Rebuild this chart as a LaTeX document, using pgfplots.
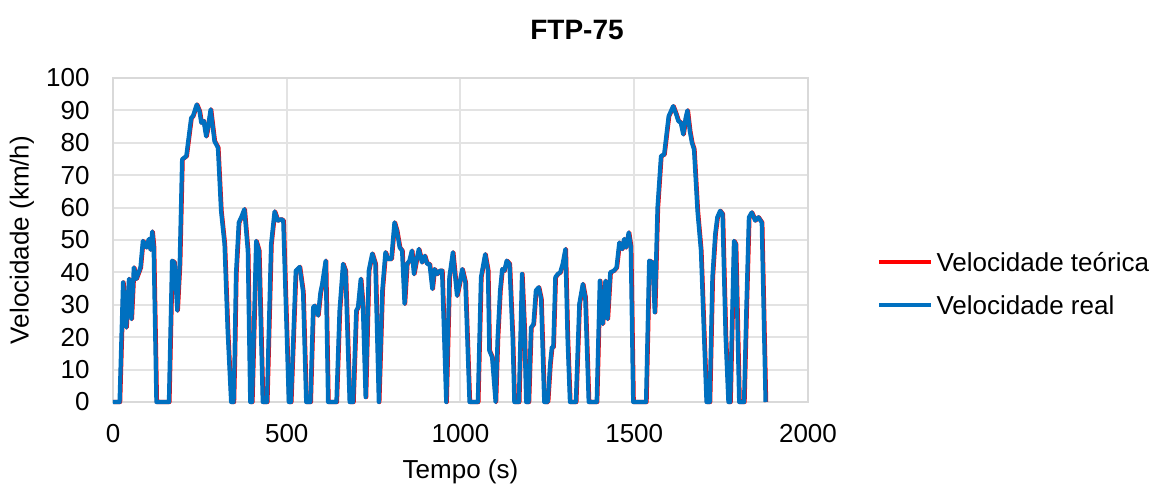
\documentclass[border=0pt]{standalone}
\usepackage{fontspec}
\setmainfont{Liberation Sans}
\usepackage{pgfplots}
\usepackage{pgfplotstable}
\pgfplotsset{compat=1.18}
\definecolor{exred}{HTML}{FF0000}
\definecolor{exblue}{HTML}{0070C0}
\pgfplotstableread{
t v
0 0
19 0
29 36.9
38 23
46 38
53 25.6
60 41.5
67 38
79 41.5
86 49.7
96 47.7
103 50.3
108 47
113 52.6
117 48
125 0
161 0
170 43.6
177 43
185 28.2
192 42.6
199 74.9
211 75.9
225 87.7
230 88.2
241 91.8
249 89.7
254 86.2
261 86.7
268 82
273 84.6
281 90.3
292 80.5
302 78.5
311 59
321 48.7
330 22
340 0
347 0
350 14
354 39.5
362 55.4
369 57
378 59.5
388 46.7
395 0
400 0
412 49.7
420 46.7
431 0
443 0
455 48.7
465 58.8
474 56
484 56.4
490 56
506 0
512 0
526 40.5
537 41.7
547 34
556 0
568 0
576 29.2
580 29.7
590 26.7
597 33.8
602 36.4
612 43.6
619 0
643 0
652 28.2
662 42.6
669 40.5
681 0
691 0
700 28.2
705 29.2
713 38
719 30
727 1.5
736 40.5
746 45.8
755 42.6
765 0
775 34.4
784 46.2
791 44.1
801 44.1
810 55.4
817 52.8
825 47.7
832 46.7
839 30.3
846 42.6
853 43.6
860 46.7
866 39.5
873 43.6
880 47.2
889 43.1
897 45.1
904 42.6
911 42.6
919 34.9
925 41
933 39.5
940 40.5
947 40.5
959 0
968 38.5
978 46.2
990 32.8
997 36.4
1005 41
1014 36.9
1026 0
1050 0
1059 38.5
1071 45.6
1079 40.5
1083 15.9
1091 13.8
1101 0
1107 20
1114 34.4
1120 41
1126 40.5
1133 43.6
1141 42.6
1150 20
1155 0
1168 0
1177 39.5
1184 22
1189 0
1196 0
1203 23
1210 24
1217 34.4
1225 35.4
1232 31.8
1241 0
1251 0
1258 11.8
1263 17
1267 17
1273 38.5
1280 39.5
1287 40
1294 42.6
1302 47.2
1308 20
1315 0
1332 0
1342 30.3
1352 36.4
1359 32.3
1369 0
1392 0
1401 37.4
1409 24.1
1417 37.4
1423 25.6
1431 40
1441 40.5
1449 41.5
1457 49.2
1465 47.2
1471 50.3
1476 47.7
1484 52.3
1490 48
1497 0
1534 0
1543 43.6
1553 43
1559 27.7
1567 60
1577 75.9
1586 76.4
1599 88.2
1612 91.3
1620 89
1627 86.7
1634 86.2
1641 82.6
1648 87.7
1653 90
1660 83.6
1666 80
1672 78
1682 59
1692 46.7
1701 20
1708 0
1717 0
1725 38.5
1733 51.8
1739 57
1747 59
1754 58
1763 20
1771 0
1776 0
1787 49.7
1792 48.7
1802 0
1816 0
1823 30.3
1830 57
1838 58.5
1848 56
1857 57
1867 55.4
1878 0
}\ftpdata
\begin{document}
\begin{tikzpicture}
\path[use as bounding box] (-56.5pt,-42.5pt) rectangle (522.5pt,201pt);
\begin{axis}[
  at={(0,0)}, anchor=south west,
  scale only axis, width=347.5pt, height=162pt,
  xmin=0, xmax=2000, ymin=0, ymax=100,
  xtick={0,500,1000,1500,2000},
  ytick={0,10,20,30,40,50,60,70,80,90,100},
  grid=major,
  grid style={color=gray!22, line width=1pt},
  axis line style={color=gray!30, line width=1pt},
  major tick length=0pt,
  clip=false,
  scaled ticks=false,
  /pgf/number format/assume math mode=true,
  /pgf/number format/1000 sep={},
  tick label style={font=\fontsize{13}{15}\selectfont, text=black, inner sep=0pt},
  xticklabel style={anchor=center, yshift=-16pt},
  yticklabel style={anchor=east, xshift=-11.5pt},
  xlabel={Tempo (s)},
  ylabel={Velocidade (km/h)},
  label style={font=\fontsize{13}{15}\selectfont, inner sep=0pt},
  xlabel style={at={(axis description cs:0.5,0)}, anchor=center, yshift=-35pt},
  ylabel style={at={(axis description cs:-0.1309,0.5)}, anchor=center},
  title={FTP-75},
  title style={at={(rel axis cs:0.6676,1)}, anchor=center, yshift=18pt, inner sep=0pt,
    font=\bfseries\fontsize{14}{16}\selectfont},
  legend image code/.code={\draw[#1] (0pt,0pt) -- (26pt,0pt);},
  legend style={at={(rel axis cs:1.0906,0.3657)}, anchor=west, draw=none, fill=none,
    font=\fontsize{13}{15}\selectfont, row sep=12pt, column sep=1.5pt,
    nodes={inner sep=0pt, text height=9.5pt, text depth=0pt}},
  legend cell align=left,
]
\addplot[exred, line width=2.1pt, line join=round] table[x expr=\thisrow{t}+1.5, y=v] {\ftpdata};
\addlegendentry{Velocidade teórica}
\addplot[exblue, line width=2.1pt, line join=round] table[x=t, y=v] {\ftpdata};
\addlegendentry{Velocidade real}
\end{axis}
\end{tikzpicture}
\end{document}
